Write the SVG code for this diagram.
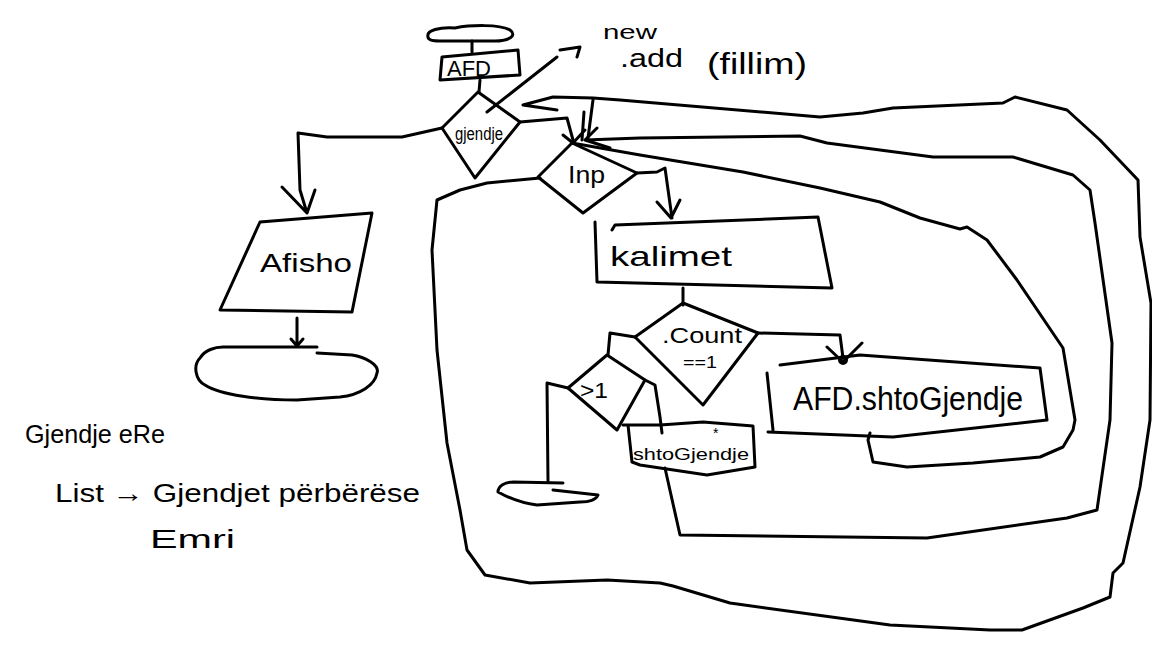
<svg xmlns="http://www.w3.org/2000/svg" width="1152" height="648" viewBox="0 0 1152 648">
<style>
.s{fill:none;stroke:#000;stroke-width:3;stroke-linejoin:round;stroke-linecap:round}
.t{font-family:"Liberation Sans",Arial,sans-serif;fill:#000}
</style>
<rect width="1152" height="648" fill="#fff"/>
<g id="connectors" class="s">
<path d="M472,41 L472,52"/>
<path d="M480,80 L479,92"/>
<path d="M487,112 L557,57 M560,50 L580,47 L577,57"/>
<path d="M442,128 L402,137 L327,137 L298,133 L300,190 L307,213 M282,187 L307,213 L315,190"/>
<path d="M297,318 L297,346 M291,339 L297,346 L303,339"/>
<path d="M520,122 L567,118 L573,140"/>
<path d="M540,178 L487,183 L460,190 L437,200 L432,250 L437,350 L447,443 L460,510 L467,550 L485,575 L530,583 L607,580 L660,583 L673,586 L730,603 L890,625 L990,630 L1022,630 L1083,608 L1110,597 L1113,573 L1123,563 L1140,487 L1150,420 L1151,303 L1140,237 L1138,180 L1100,140 L1067,110 L1015,97 L1003,103 L893,108 L863,113 L820,117 L620,100 L593,98 L553,97 L523,105 L557,110"/>
<path d="M665,468 L667,477 L680,535 L927,538 L1067,518 L1097,510 L1110,420 L1112,343 L1095,223 L1090,190 L1073,175 L1013,157 L933,157 L827,143 L800,136 L640,138 L585,140 M610,148 L585,140 L597,128"/>
<path d="M870,433 L868,440 L873,462 L907,467 L973,463 L1040,457 L1063,447 L1073,430 L1075,420 L1063,348 L1017,280 L987,240 L967,227 L960,229 L920,218 L880,202 L820,188 L743,172 L640,155 L572,143"/>
<path d="M593,100 L588,138 M584,112 L582,140 M563,135 L573,143 L585,130"/>
<path d="M637,173 L657,172 L665,168 L672,218 M657,202 L671,218 L680,200"/>
<path d="M683,288 L683,305"/>
<path d="M758,333 L840,335 L843,358 M827,347 L843,362 L862,343"/>
<circle cx="843" cy="360" r="3.5"/>
<path d="M635,337 L610,333 L608,355"/>
<path d="M645,380 L655,385 L660,417 L662,433"/>
<path d="M568,388 L547,383 L548,482"/>
</g>
<g id="start" class="s"><path d="M428,37 C426,30 440,27 455,28 C470,25 500,24 510,30 C518,36 508,41 495,41 L440,41 C432,41 428,40 428,37 Z"/></g>
<g id="afd"><path class="s" d="M442,57 L518,50 L520,75 L440,80 Z"/><text class="t" x="447" y="76" font-size="22" textLength="44" lengthAdjust="spacingAndGlyphs">AFD</text></g>
<g id="gjendje"><path class="s" d="M478,92 L442,128 L475,178 L520,122 Z"/><text class="t" x="455" y="140" font-size="18" textLength="48" lengthAdjust="spacingAndGlyphs">gjendje</text></g>
<g id="note-new">
<text class="t" x="603" y="39" font-size="20" textLength="54" lengthAdjust="spacingAndGlyphs">new</text>
<text class="t" x="620" y="67" font-size="26" textLength="63" lengthAdjust="spacingAndGlyphs">.add</text>
<text class="t" x="707" y="74" font-size="30" textLength="100" lengthAdjust="spacingAndGlyphs">(fillim)</text>
</g>
<g id="afisho"><path class="s" d="M260,222 L372,213 L352,312 L220,310 Z"/><text class="t" x="260" y="272" font-size="26" textLength="92" lengthAdjust="spacingAndGlyphs">Afisho</text></g>
<g id="end-left" class="s"><path d="M223,347 L317,347 M317,353 L352,355 C365,357 380,365 377,373 C375,385 360,395 340,397 L297,400 C260,400 220,395 205,385 C195,380 193,365 200,358 C205,350 215,347 223,347"/></g>
<g id="inp"><path class="s" d="M572,143 L538,177 L583,213 L637,173 Z"/><text class="t" x="568" y="183" font-size="24" textLength="37" lengthAdjust="spacingAndGlyphs">Inp</text></g>
<g id="kalimet"><path class="s" d="M595,222 L597,282 L832,288 L818,217 L615,225 L612,230"/><text class="t" x="610" y="266" font-size="28" textLength="122" lengthAdjust="spacingAndGlyphs">kalimet</text></g>
<g id="count"><path class="s" d="M683,303 L635,337 L703,405 L758,333 Z"/><text class="t" x="662" y="343" font-size="22" textLength="80" lengthAdjust="spacingAndGlyphs">.Count</text><text class="t" x="683" y="368" font-size="17" textLength="34" lengthAdjust="spacingAndGlyphs">==1</text></g>
<g id="gt1"><path class="s" d="M607,355 L568,388 L617,430 L645,380 Z"/><text class="t" x="580" y="398" font-size="22" textLength="28" lengthAdjust="spacingAndGlyphs">&gt;1</text></g>
<g id="afd-shto"><path class="s" d="M780,365 L860,355 L1040,368 L1047,420 L893,437 L768,432 M767,373 L773,430"/><text class="t" x="793" y="410" font-size="34" textLength="230" lengthAdjust="spacingAndGlyphs">AFD.shtoGjendje</text></g>
<g id="shto"><path class="s" d="M623,425 L660,425 L703,422 L753,426 L755,467 L707,475 L640,465 L632,462 M628,425 L632,462"/><text class="t" x="633" y="460" font-size="17" textLength="116" lengthAdjust="spacingAndGlyphs">shtoGjendje</text><text class="t" x="713" y="438" font-size="14">*</text></g>
<g id="end-small" class="s"><path d="M513,482 L563,483 M553,490 L598,495 C596,500 590,502 580,502 L537,505 C520,503 507,497 498,492 C498,486 505,482 513,482"/></g>
<g id="notes">
<text class="t" x="25" y="443" font-size="26" textLength="140" lengthAdjust="spacingAndGlyphs">Gjendje eRe</text>
<text class="t" x="55" y="502" font-size="26" textLength="365" lengthAdjust="spacingAndGlyphs">List → Gjendjet përbërëse</text>
<text class="t" x="150" y="548" font-size="26" textLength="85" lengthAdjust="spacingAndGlyphs">Emri</text>
</g>
</svg>
